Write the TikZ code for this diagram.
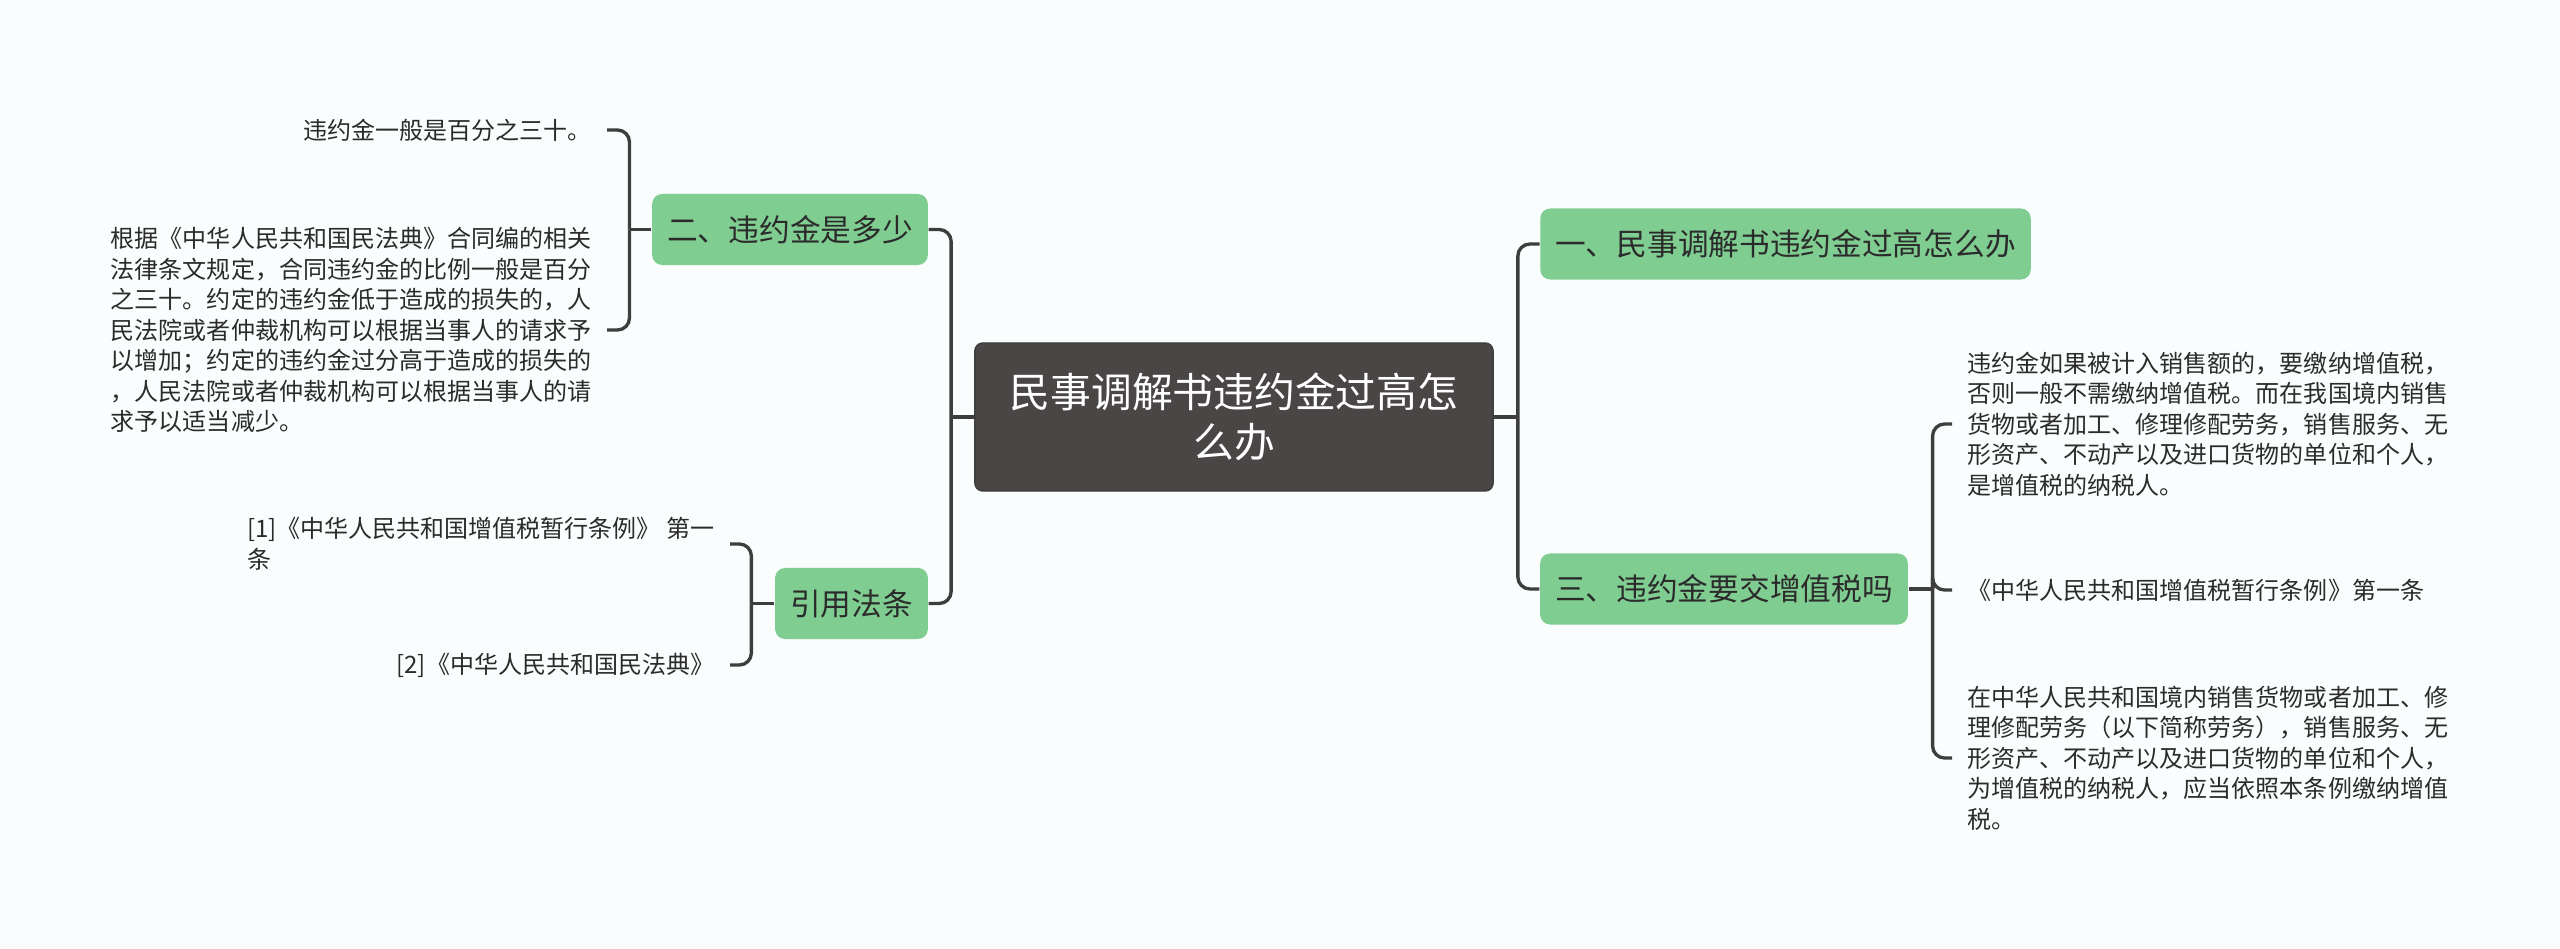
\documentclass[tikz,border=0pt]{standalone}
\usepackage{fontspec}
\setmainfont{Noto Sans CJK SC}
\definecolor{PenaltyBack}{HTML}{F9FDFE}
\definecolor{PenaltyLine}{HTML}{3E3E3E}
\definecolor{PenaltyRoot}{HTML}{4B4646}
\definecolor{PenaltyGreen}{HTML}{80CD92}
\definecolor{PenaltyText}{HTML}{2B2B2B}

\begin{document}
\begin{tikzpicture}[x=0.01cm,y=-0.01cm,
    root/.style={fill=PenaltyRoot,draw=PenaltyLine,rounded corners=0.08cm,text=white,align=center,
      minimum width=5.18cm,minimum height=1.48cm,font=\fontsize{11.6}{14.4}\selectfont},
    branch/.style={fill=PenaltyGreen,rounded corners=0.1cm,text=PenaltyText,inner xsep=0.15cm,
      inner ysep=0pt,minimum height=0.71cm,font=\fontsize{8.73}{10.5}\selectfont},
    leaf/.style={text=PenaltyText,align=left,inner xsep=0.15cm,inner ysep=0pt,
      font=\fontsize{6.83}{8.68}\selectfont},
    link/.style={draw=PenaltyLine,line width=0.95pt,rounded corners=0.12cm}]
      \fill[PenaltyBack] (0,0) rectangle (2560,949);
      \useasboundingbox (0,0) rectangle (2560,949);
      % centre and main branches
      \node[root] (root) at (1234,417) {民事调解书违约金过高怎\\么办};
      \node[branch] (n1) at (1785.5,244) {一、民事调解书违约金过高怎么办};
      \node[branch] (n2) at (790,229.5) {二、违约金是多少};
      \node[branch] (n3) at (1724,589) {三、违约金要交增值税吗};
      \node[branch] (n4) at (851.5,603.5) {引用法条};
      % leaves
      \node[leaf,anchor=east] (t2a) at (607,130) {违约金一般是百分之三十。};
      \node[leaf,anchor=east] (t2b) at (607,330) {根据《中华人民共和国民法典》合同编的相关\\法律条文规定，合同违约金的比例一般是百分\\之三十。约定的违约金低于造成的损失的，人\\民法院或者仲裁机构可以根据当事人的请求予\\以增加；约定的违约金过分高于造成的损失的\\，人民法院或者仲裁机构可以根据当事人的请\\求予以适当减少。};
      \node[leaf,anchor=east] (t4a) at (730,544) {[1]《中华人民共和国增值税暂行条例》 第一\\条};
      \node[leaf,anchor=east] (t4b) at (730,665) {[2]《中华人民共和国民法典》};
      \node[leaf,anchor=west] (t3a) at (1952,424) {违约金如果被计入销售额的，要缴纳增值税，\\否则一般不需缴纳增值税。而在我国境内销售\\货物或者加工、修理修配劳务，销售服务、无\\形资产、不动产以及进口货物的单位和个人，\\是增值税的纳税人。};
      \node[leaf,anchor=west] (t3b) at (1952,590) {《中华人民共和国增值税暂行条例》第一条};
      \node[leaf,anchor=west] (t3c) at (1952,758) {在中华人民共和国境内销售货物或者加工、修\\理修配劳务（以下简称劳务），销售服务、无\\形资产、不动产以及进口货物的单位和个人，\\为增值税的纳税人，应当依照本条例缴纳增值\\税。};
      % connectors
      \draw[link] (root.west) -- ++(-23,0) coordinate (jl);
      \draw[link] (jl) |- (n2.east);
      \draw[link] (jl) |- (n4.east);
      \draw[link] (root.east) -- ++(24,0) coordinate (jr);
      \draw[link] (jr) |- (n1.west);
      \draw[link] (jr) |- (n3.west);
      \draw[link] (n2.west) -- ++(-22,0) coordinate (j2);
      \draw[link] (j2) |- (t2a.east);
      \draw[link] (j2) |- (t2b.east);
      \draw[link] (n4.west) -- ++(-23,0) coordinate (j4);
      \draw[link] (j4) |- (t4a.east);
      \draw[link] (j4) |- (t4b.east);
      \draw[link] (n3.east) -- ++(24,0) coordinate (j3);
      \draw[link] (j3) |- (t3a.west);
      \draw[link] (j3) |- (t3b.west);
      \draw[link] (j3) |- (t3c.west);
    \end{tikzpicture}
\end{document}
